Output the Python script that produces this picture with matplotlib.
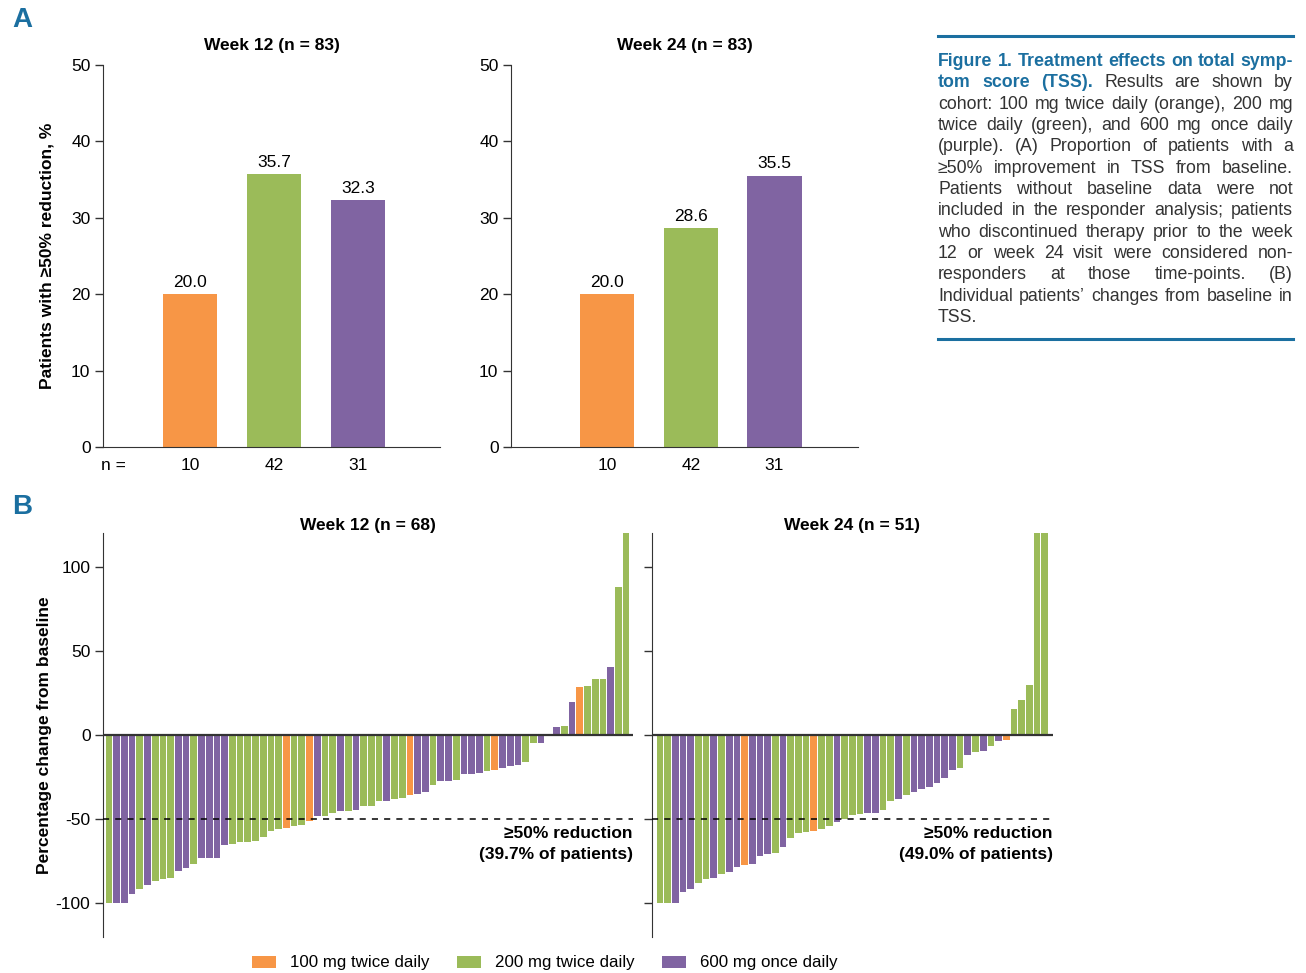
import matplotlib
matplotlib.use("Agg")
import matplotlib.pyplot as plt
from matplotlib.patches import Patch
from matplotlib.lines import Line2D

plt.rcParams['font.family'] = ['Liberation Sans', 'DejaVu Sans']
plt.rcParams['axes.unicode_minus'] = False

# ---------------- data ----------------
cohorts = ["100 mg twice daily", "200 mg twice daily", "600 mg once daily"]
cohort_colors = ["#F79646", "#9BBB59", "#8064A2"]

resp_n = [10, 42, 31]
resp_wk12 = [20.0, 35.7, 32.3]
resp_wk24 = [20.0, 28.6, 35.5]

# per-patient % change from baseline, sorted; cohort code: 0=100 BID, 1=200 BID, 2=600 QD
chg_wk12 = [-100, -100, -100, -94.6, -91.4, -89.0, -87.0, -85.7, -84.9, -80.7,
            -79.3, -76.5, -72.9, -72.9, -72.9, -65.1, -64.5, -63.5, -63.3, -62.7,
            -60.4, -57.2, -55.6, -55.4, -54.2, -53.4, -51.0, -48.2, -48.2, -46.4,
            -45.0, -45.0, -44.8, -42.4, -42.4, -39.4, -39.4, -37.8, -37.5, -35.9,
            -35.0, -33.9, -29.5, -27.5, -27.1, -26.5, -23.1, -22.9, -22.3, -21.3,
            -20.9, -19.5, -18.3, -17.7, -16.1, -4.6, -4.6, 0.0, 4.8, 5.2,
            19.7, 28.7, 29.3, 33.3, 33.3, 40.4, 88.2, 120]
grp_wk12 = [1, 2, 2, 2, 1, 2, 1, 1, 1, 2,
            2, 1, 2, 2, 2, 2, 1, 1, 1, 1,
            1, 1, 1, 0, 1, 1, 0, 2, 1, 1,
            2, 1, 2, 1, 1, 1, 2, 1, 1, 0,
            2, 2, 1, 2, 2, 1, 2, 2, 2, 1,
            0, 2, 2, 2, 1, 1, 2, 1, 2, 1,
            2, 0, 1, 1, 1, 2, 1, 1]

chg_wk24 = [-100, -100, -100, -93.2, -91.4, -87.8, -85.5, -85.1, -82.3, -81.1,
            -78.5, -77.1, -76.7, -71.9, -70.7, -69.9, -66.7, -61.2, -58.0, -57.8,
            -57.2, -55.6, -54.0, -51.8, -50.0, -47.8, -47.0, -46.2, -46.2, -44.8,
            -39.2, -37.8, -35.9, -33.9, -31.9, -30.9, -28.3, -25.3, -20.5, -19.7,
            -12.0, -10.0, -9.8, -6.6, -3.6, -3.0, 15.3, 20.9, 29.7, 120, 120]
grp_wk24 = [1, 1, 2, 2, 2, 1, 1, 2, 1, 2,
            2, 0, 2, 2, 2, 1, 2, 1, 1, 1,
            0, 1, 1, 2, 1, 1, 1, 2, 2, 1,
            1, 2, 1, 2, 2, 2, 2, 2, 2, 1,
            2, 1, 2, 1, 2, 0, 1, 1, 1, 1, 1]

W, H = 1306, 973
fig = plt.figure(figsize=(W / 100, H / 100), dpi=100)


def box(x0, y0, x1, y1):
    return [x0 / W, 1 - y1 / H, (x1 - x0) / W, (y1 - y0) / H]


FS = 12.5
BLUE = "#1B6FA0"

# ---------------- panel A ----------------
axA1 = fig.add_axes(box(103, 65, 440, 447))
axA2 = fig.add_axes(box(511, 65, 858, 447))
xpos = [1, 2, 3]
for ax, vals, title, xl in [(axA1, resp_wk12, "Week 12 (n = 83)", (-0.04, 3.98)),
                            (axA2, resp_wk24, "Week 24 (n = 83)", (-0.15, 4.0))]:
    ax.bar(xpos, vals, width=0.65, color=cohort_colors)
    for x, v in zip(xpos, vals):
        ax.text(x, v + 0.6, f"{v:.1f}", ha='center', va='bottom', fontsize=FS)
    for x, n in zip(xpos, resp_n):
        ax.text(x, -2.4, str(n), ha='center', va='center', fontsize=FS)
    ax.set_xlim(*xl)
    ax.set_ylim(0, 50)
    ax.set_yticks(range(0, 51, 10))
    ax.set_xticks([])
    ax.spines['top'].set_visible(False)
    ax.spines['right'].set_visible(False)
    ax.spines['left'].set_color('#333333')
    ax.spines['bottom'].set_color('#333333')
    ax.tick_params(axis='y', labelsize=FS, length=6, width=1, pad=3, color='#333333')
    ax.set_title(title, fontsize=FS, fontweight='bold', pad=11)
axA1.text(0.08, -2.4, "n =", ha='center', va='center', fontsize=FS)
axA1.set_ylabel("Patients with \u226550% reduction, %", fontsize=FS, fontweight='bold', labelpad=12)

# ---------------- panel B ----------------
axB1 = fig.add_axes(box(103, 533, 633, 937))
axB2 = fig.add_axes(box(652, 533, 1053, 937))
for ax, vals, grp, title, pct, xl in [
        (axB1, chg_wk12, grp_wk12, "Week 12 (n = 68)", "(39.7% of patients)", (-0.76, 67.9)),
        (axB2, chg_wk24, grp_wk24, "Week 24 (n = 51)", "(49.0% of patients)", (-1.02, 51.06))]:
    idx = list(range(len(vals)))
    ax.bar(idx, vals, width=0.87, color=[cohort_colors[g] for g in grp], zorder=2)
    ax.axhline(0, color='#333333', lw=1.6, zorder=3)
    ax.axhline(-50, color='black', lw=1.1, ls=(0, (4, 4)), zorder=3)
    ax.set_xlim(*xl)
    ax.set_ylim(-120, 120)
    ax.set_yticks([-100, -50, 0, 50, 100])
    ax.set_xticks([])
    for s in ['top', 'right', 'bottom']:
        ax.spines[s].set_visible(False)
    ax.spines['left'].set_color('#333333')
    ax.tick_params(axis='y', labelsize=FS, length=6, width=1, pad=3, color='#333333')
    ax.set_title(title, fontsize=FS, fontweight='bold', pad=-7)
    ax.text(1.0, -58.5, "\u226550% reduction", ha='right', va='center', fontsize=FS,
            fontweight='bold', transform=ax.get_yaxis_transform())
    ax.text(1.0, -71, pct, ha='right', va='center', fontsize=FS,
            fontweight='bold', transform=ax.get_yaxis_transform())
axB2.tick_params(axis='y', labelleft=False)
axB1.set_ylabel("Percentage change from baseline", fontsize=FS, fontweight='bold', labelpad=3)

# legend
handles = [Patch(facecolor=c, edgecolor='none') for c in cohort_colors]
fig.legend(handles, cohorts, loc='center', bbox_to_anchor=(545 / W, 1 - 963 / H), ncol=3,
           frameon=False, fontsize=12.2, handlelength=1.4, handleheight=0.72,
           handletextpad=0.85, columnspacing=1.6)

# panel letters
for lab, (x, y) in [("A", (12, 20)), ("B", (12, 507))]:
    fig.text(x / W, 1 - y / H, lab, fontsize=20, fontweight='bold', color=BLUE,
             ha='left', va='center')

# ---------------- caption ----------------
X0, X1 = 938, 1293
fig.add_artist(Line2D([X0 / W, X1 / W], [1 - 36 / H, 1 - 36 / H], color=BLUE, lw=2.2))
fig.add_artist(Line2D([X0 / W, X1 / W], [1 - 339 / H, 1 - 339 / H], color=BLUE, lw=2.2))

bold = dict(color=BLUE, fontweight='bold')
reg = dict(color='#333333')
caption_lines = [
    [("Figure 1. Treatment effects on total symp-", bold)],
    [("tom score (TSS).", bold), ("Results are shown by", reg)],
    [("cohort: 100 mg twice daily (orange), 200 mg", reg)],
    [("twice daily (green), and 600 mg once daily", reg)],
    [("(purple). (A) Proportion of patients with a", reg)],
    [("\u226550% improvement in TSS from baseline.", reg)],
    [("Patients without baseline data were not", reg)],
    [("included in the responder analysis; patients", reg)],
    [("who discontinued therapy prior to the week", reg)],
    [("12 or week 24 visit were considered non-", reg)],
    [("responders at those time-points. (B)", reg)],
    [("Individual patients\u2019 changes from baseline in", reg)],
    [("TSS.", reg)],
]
renderer = fig.canvas.get_renderer()

# pick the caption size so the fullest line just fills the column
probe_size = 10.0
widest = 0.0
for segs in caption_lines:
    t = fig.text(0, 0, " ".join(s for s, _ in segs), fontsize=probe_size)
    widest = max(widest, t.get_window_extent(renderer).width)
    t.remove()
CFS = probe_size * (X1 - X0) / widest * 0.985

for i, segs in enumerate(caption_lines):
    y = 66 + i * 21.33
    words = []
    for text, props in segs:
        for w in text.split(" "):
            words.append((w, props))
    objs = [fig.text(0, 1 - y / H, w, fontsize=CFS, ha='left', va='baseline', **p)
            for w, p in words]
    widths = [o.get_window_extent(renderer).width for o in objs]
    last = i == len(caption_lines) - 1
    gap = 4 if (last or len(objs) == 1) else (X1 - X0 - sum(widths)) / (len(objs) - 1)
    x = X0
    for o, w in zip(objs, widths):
        o.set_x(x / W)
        x += w + gap

fig.savefig("out.png", dpi=100)
